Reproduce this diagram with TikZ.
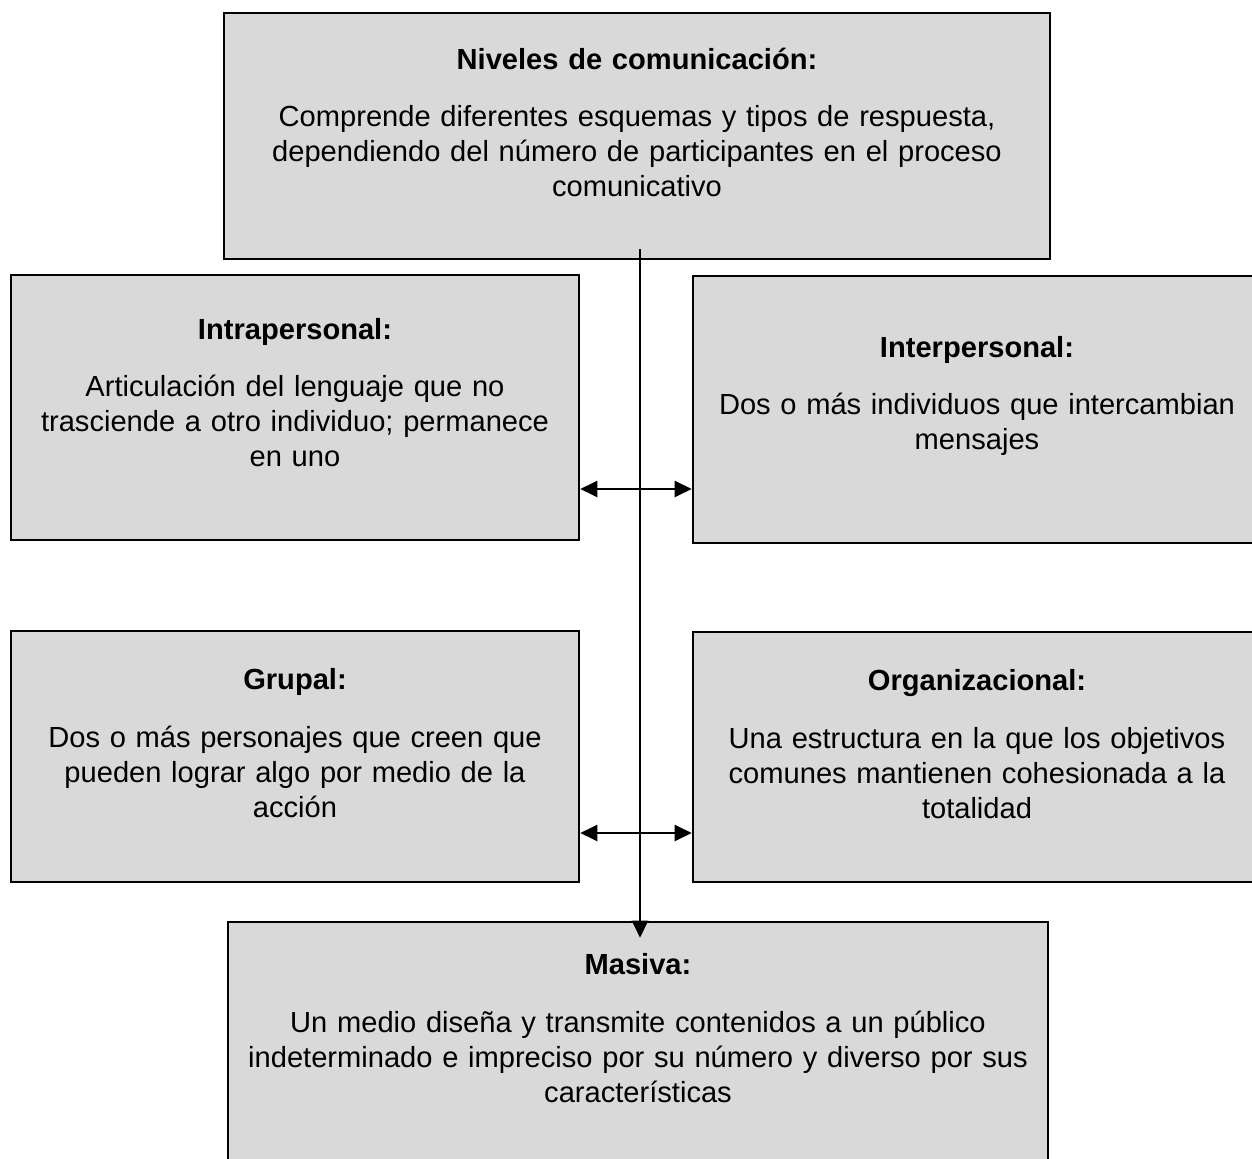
\documentclass[tikz,border=0pt]{standalone}
\usepackage{fontspec}
\setmainfont{Liberation Sans}
\usepackage{xcolor}
\usetikzlibrary{arrows, arrows.meta, positioning}
\definecolor{cajagris}{RGB}{217,217,217}

\begin{document}
\begin{tikzpicture}[
        x=0.5pt, y=-0.5pt,
        caja/.style={draw=black, line width=1.3pt, fill=cajagris, inner sep=0pt},
        texto/.style={anchor=base, align=center, inner sep=0pt, font=\fontsize{14.55}{17.5}\selectfont},
        flecha/.style={line width=1.2pt, >={Triangle[length=8.5pt, width=8pt]}}
    ]
        \useasboundingbox (0,0) rectangle (1252,1159);
        \clip (0,0) rectangle (1252,1159);

        % cajas
        \node[caja, minimum width=413pt, minimum height=123pt] (niveles) at (637,136) {};
        \node[caja, minimum width=284pt, minimum height=132.5pt] (intra) at (295,407.5) {};
        \node[caja, minimum width=284pt, minimum height=133.5pt] (inter) at (977,409.5) {};
        \node[caja, minimum width=284pt, minimum height=125.5pt] (grupal) at (295,756.5) {};
        \node[caja, minimum width=284pt, minimum height=125pt] (organ) at (977,757) {};
        \node[caja, minimum width=410pt, minimum height=123pt] (masiva) at (638,1045) {};

        % textos
        \node[texto, text width=405pt] (nivelesT) at ([yshift=-28.85pt]niveles.north)
            {\textbf{Niveles de comunicación:}\\[11.3pt]
             Comprende diferentes esquemas y tipos de respuesta,\\
             dependiendo del número de participantes en el proceso\\
             comunicativo};
        \node[texto, text width=280pt] (intraT) at ([yshift=-32.85pt]intra.north)
            {\textbf{Intrapersonal:}\\[11.3pt]
             Articulación del lenguaje que no\\
             trasciende a otro individuo; permanece\\
             en uno};
        \node[texto, text width=280pt] (interT) at ([yshift=-41.35pt]inter.north)
            {\textbf{Interpersonal:}\\[11.3pt]
             Dos o más individuos que intercambian\\
             mensajes};
        \node[texto, text width=280pt] (grupalT) at ([yshift=-29.85pt]grupal.north)
            {\textbf{Grupal:}\\[11.3pt]
             Dos o más personajes que creen que\\
             pueden lograr algo por medio de la\\
             acción};
        \node[texto, text width=280pt] (organT) at ([yshift=-29.85pt]organ.north)
            {\textbf{Organizacional:}\\[11.3pt]
             Una estructura en la que los objetivos\\
             comunes mantienen cohesionada a la\\
             totalidad};
        \node[texto, text width=405pt] (masivaT) at ([yshift=-26.85pt]masiva.north)
            {\textbf{Masiva:}\\[11.3pt]
             Un medio diseña y transmite contenidos a un público\\
             indeterminado e impreciso por su número y diverso por sus\\
             características};

        % conectores
        \coordinate (cruceA) at (640,489);
        \coordinate (cruceB) at (640,833);
        \draw[flecha, ->] ([xshift=1.5pt, yshift=5.5pt]niveles.south) -- ([xshift=1pt, yshift=-8.5pt]masiva.north);
        \draw[flecha, <->] (intra.east |- cruceA) -- (inter.west |- cruceA);
        \draw[flecha, <->] (grupal.east |- cruceB) -- (organ.west |- cruceB);
    \end{tikzpicture}
\end{document}
